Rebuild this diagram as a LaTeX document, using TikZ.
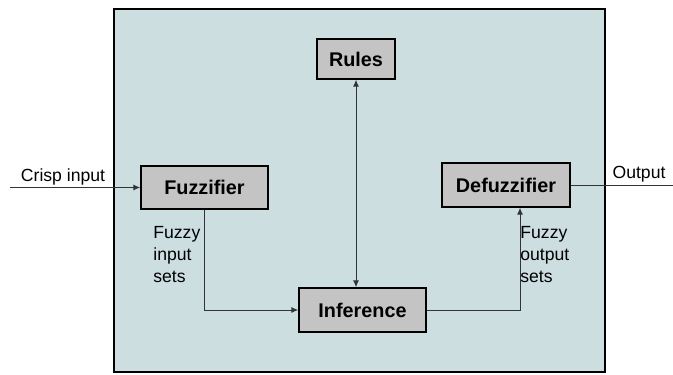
\documentclass[tikz,border=0pt]{standalone}
\usepackage{fontspec}
\setmainfont{Liberation Sans}
\usetikzlibrary{arrows.meta}
\definecolor{panelblue}{RGB}{205,222,225}
\definecolor{boxgrey}{RGB}{196,196,196}
\tikzset{
    blockbox/.style={draw=black, fill=boxgrey, line width=0.7pt, inner sep=0pt,
        font=\fontsize{9.9}{11}\selectfont\bfseries},
    sidenote/.style={inner sep=0pt, align=left, font=\fontsize{8.8}{11}\selectfont},
    flowline/.style={line width=0.5pt, draw=black!80, >={Latex[length=3.5pt,width=3pt]}}
}
\begin{document}
\begin{tikzpicture}[x=0.5pt,y=-0.5pt]
    \useasboundingbox (0,0) rectangle (673,374);
    \draw[fill=panelblue, line width=1.1pt] (114,9) rectangle (605,372);

    \node[blockbox, minimum width=63.5pt, minimum height=21.5pt] (fuzz) at (204.5,187.5) {Fuzzifier};
    \node[blockbox, minimum width=39pt, minimum height=20pt] (rules) at (356,59) {Rules};
    \node[blockbox, minimum width=64pt, minimum height=22pt] (defuzz) at (506,185) {Defuzzifier};
    \node[blockbox, minimum width=63.5pt, minimum height=22pt] (inf) at (362.5,310) {Inference};

    \node[sidenote] (crisp) at (63,177) {Crisp input};
    \node[sidenote] (outlbl) at (639,174) {Output};
    \node[sidenote, anchor=north west] (fin) at (153,226) {Fuzzy\\input\\sets};
    \node[sidenote, anchor=north west] (fout) at (520,226) {Fuzzy\\output\\sets};

    \coordinate (cin) at (10,187.5);
    \coordinate (cout) at (673,185);

    \draw [flowline, ->](cin) -- (fuzz.west);
    \draw [flowline, ->](fuzz.south) |- (inf.west);
    \draw [flowline, ->](inf.east) -| ([xshift=7]defuzz.south);
    \draw [flowline, <->](rules.south) -- (rules.south |- inf.north);
    \draw [flowline](defuzz.east) -- (cout);
\end{tikzpicture}
\end{document}
